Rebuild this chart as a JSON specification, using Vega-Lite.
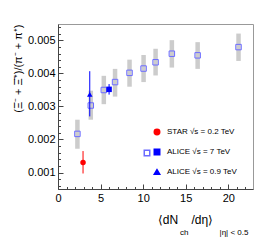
{
 "$schema": "https://vega.github.io/schema/vega-lite/v6.json",
 "width": 195, "height": 165,
 "autosize": {"type": "none"},
 "padding": {"left": 58, "top": 24, "right": 13, "bottom": 54},
 "config": {"view": {"stroke": "#999", "strokeWidth": 1}, "font": "Liberation Sans"},
 "title": {"text": "ch\u00a0\u00a0\u00a0\u00a0\u00a0\u00a0\u00a0\u00a0\u00a0\u00a0\u00a0\u00a0\u00a0\u00a0|η| < 0.5", "orient": "bottom", "anchor": "start", "frame": "group", "fontSize": 8, "fontWeight": "normal", "color": "#000", "dx": 122, "offset": 4},
 "resolve": {"axis": {"x": "independent", "y": "independent"}},
 "datasets": {
  "sys": [
   {"label": "ALICE 7 TeV sys", "x": 2.28, "y": 0.00217, "lo": 0.00172, "hi": 0.00260},
   {"label": "ALICE 7 TeV sys", "x": 3.85, "y": 0.00303, "lo": 0.00260, "hi": 0.00348},
   {"label": "ALICE 7 TeV sys", "x": 5.38, "y": 0.00350, "lo": 0.00307, "hi": 0.00393},
   {"label": "ALICE 7 TeV sys", "x": 6.70, "y": 0.00374, "lo": 0.00330, "hi": 0.00414},
   {"label": "ALICE 7 TeV sys", "x": 8.40, "y": 0.00402, "lo": 0.00360, "hi": 0.00442},
   {"label": "ALICE 7 TeV sys", "x": 10.05, "y": 0.00415, "lo": 0.00374, "hi": 0.00456},
   {"label": "ALICE 7 TeV sys", "x": 11.46, "y": 0.00434, "lo": 0.00394, "hi": 0.00475},
   {"label": "ALICE 7 TeV sys", "x": 13.37, "y": 0.00460, "lo": 0.00418, "hi": 0.00501},
   {"label": "ALICE 7 TeV sys", "x": 16.40, "y": 0.00455, "lo": 0.00414, "hi": 0.00495},
   {"label": "ALICE 7 TeV sys", "x": 21.20, "y": 0.00480, "lo": 0.00438, "hi": 0.00521}
  ],
  "pts": [
   {"series": "STAR √s = 0.2 TeV", "x": 2.94, "y": 0.00130, "lo": 0.00097, "hi": 0.00165},
   {"series": "ALICE √s = 7 TeV", "x": 6.0, "y": 0.00352, "lo": 0.00336, "hi": 0.00368},
   {"series": "ALICE √s = 0.9 TeV", "x": 3.73, "y": 0.00337, "lo": 0.00270, "hi": 0.00407}
  ]
 },
 "layer": [
  {
   "data": {"name": "sys"},
   "mark": {"type": "rule", "strokeWidth": 4.5, "color": "#cccccc"},
   "encoding": {
    "x": {"field": "x", "type": "quantitative",
     "scale": {"domain": [0, 22.9], "nice": false, "zero": false},
     "axis": {
      "orient": "bottom",
      "values": [0, 5, 10, 15, 20],
      "tickSize": -5,
      "grid": false, "domainColor": "#444", "tickColor": "#444",
      "labelFontSize": 11, "labelColor": "#000", "labelPadding": 8, "labelFlush": false, "labelOverlap": false,
      "title": "⟨dN\u00a0\u00a0\u00a0\u00a0/dη⟩", "titleFontSize": 12, "titleFontWeight": "normal", "titleColor": "#000",
      "titleX": 127, "titleY": 34, "titleAlign": "center", "titleBaseline": "alphabetic"
     }},
    "y": {"field": "lo", "type": "quantitative",
     "scale": {"domain": [0.0005, 0.0055], "nice": false, "zero": false},
     "axis": {
      "orient": "left",
      "values": [0.001, 0.002, 0.003, 0.004, 0.005],
      "format": ".3f",
      "tickSize": -5,
      "grid": false, "domainColor": "#444", "tickColor": "#444",
      "labelFontSize": 11, "labelColor": "#000", "labelPadding": 8, "labelFlush": false, "labelOverlap": false,
      "title": "(Ξ⁻ + Ξ̄⁺)/(π⁻ + π⁺)", "titleFontSize": 11, "titleFontWeight": "normal", "titleColor": "#000",
      "titleAnchor": "end", "titlePadding": 4
     }},
    "y2": {"field": "hi"}
   }
  },
  {
   "data": {"name": "sys"},
   "mark": {"type": "point", "shape": "square", "filled": false, "size": 30, "strokeWidth": 1, "opacity": 1},
   "encoding": {
    "x": {"field": "x", "type": "quantitative",
     "axis": {"orient": "bottom", "values": [1,2,3,4,6,7,8,9,11,12,13,14,16,17,18,19,21,22], "labels": false, "domain": false, "grid": false, "tickSize": -2.5, "tickColor": "#444", "title": null}},
    "y": {"field": "y", "type": "quantitative",
     "axis": {"orient": "left", "values": [0.0006,0.0008,0.0012,0.0014,0.0016,0.0018,0.0022,0.0024,0.0026,0.0028,0.0032,0.0034,0.0036,0.0038,0.0042,0.0044,0.0046,0.0048,0.0052,0.0054], "labels": false, "domain": false, "grid": false, "tickSize": -2.5, "tickColor": "#444", "title": null}},
    "stroke": {"field": "label", "type": "nominal", "scale": {"range": ["#6b6bff"]},
     "legend": {"orient": "none", "legendX": 84, "legendY": 124, "title": null, "labelExpr": "''", "padding": 0, "symbolSize": 30, "symbolType": "square", "symbolFillColor": "transparent"}}
   }
  },
  {
   "data": {"name": "pts"},
   "mark": {"type": "point", "filled": true, "size": 30, "opacity": 1},
   "encoding": {
    "x": {"field": "x", "type": "quantitative", "axis": null},
    "y": {"field": "y", "type": "quantitative", "axis": null},
    "color": {"field": "series", "type": "nominal",
     "scale": {"domain": ["STAR √s = 0.2 TeV", "ALICE √s = 7 TeV", "ALICE √s = 0.9 TeV"], "range": ["#ff0000", "#0000ff", "#0000ff"]},
     "legend": {"orient": "none", "legendX": 95, "legendY": 104, "title": null, "labelFontSize": 8, "labelColor": "#000", "padding": 0, "symbolSize": 30, "rowPadding": 8, "labelOffset": 6}},
    "shape": {"field": "series", "type": "nominal",
     "scale": {"domain": ["STAR √s = 0.2 TeV", "ALICE √s = 7 TeV", "ALICE √s = 0.9 TeV"], "range": ["circle", "square", "triangle-up"]}}
   }
  },
  {
   "data": {"name": "pts"},
   "mark": {"type": "rule", "strokeWidth": 1},
   "encoding": {
    "x": {"field": "x", "type": "quantitative", "axis": null},
    "y": {"field": "lo", "type": "quantitative", "axis": null},
    "y2": {"field": "hi"},
    "color": {"field": "series", "type": "nominal",
     "legend": {"orient": "none", "legendX": 95, "legendY": 104, "title": null, "labelFontSize": 8, "labelColor": "#000", "padding": 0, "symbolSize": 30, "rowPadding": 8, "labelOffset": 6}}
   }
  }
 ]
}
